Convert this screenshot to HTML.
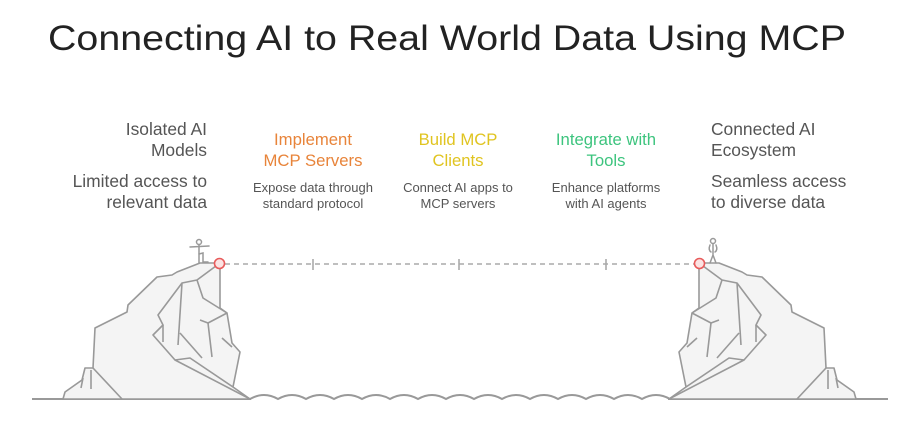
<!DOCTYPE html>
<html><head><meta charset="utf-8"><style>
html,body{margin:0;padding:0;background:#fff;}
svg{display:block;}
text{font-family:"Liberation Sans",sans-serif;}
</style></head><body>
<svg width="912" height="426" viewBox="0 0 912 426" xmlns="http://www.w3.org/2000/svg">
<text x="48" y="50" font-size="35" fill="#222" textLength="798" lengthAdjust="spacingAndGlyphs">Connecting AI to Real World Data Using MCP</text>

<g font-size="17.4" fill="#555" text-anchor="end">
<text x="207" y="135">Isolated AI</text>
<text x="207" y="156">Models</text>
<text x="207" y="187">Limited access to</text>
<text x="207" y="208">relevant data</text>
</g>
<g font-size="17.4" fill="#555">
<text x="711" y="135">Connected AI</text>
<text x="711" y="156">Ecosystem</text>
<text x="711" y="187">Seamless access</text>
<text x="711" y="208">to diverse data</text>
</g>
<g font-size="16.7" text-anchor="middle">
<text x="313" y="145" fill="#E8843A">Implement</text>
<text x="313" y="166" fill="#E8843A">MCP Servers</text>
<text x="458" y="145" fill="#E0C420">Build MCP</text>
<text x="458" y="166" fill="#E0C420">Clients</text>
<text x="606" y="145" fill="#3DC47E">Integrate with</text>
<text x="606" y="166" fill="#3DC47E">Tools</text>
</g>
<g font-size="13" fill="#555" text-anchor="middle">
<text x="313" y="192">Expose data through</text>
<text x="313" y="208">standard protocol</text>
<text x="458" y="192">Connect AI apps to</text>
<text x="458" y="208">MCP servers</text>
<text x="606" y="192">Enhance platforms</text>
<text x="606" y="208">with AI agents</text>
</g>

<line x1="225" y1="264" x2="694" y2="264" stroke="#aaa" stroke-width="1.6" stroke-dasharray="5 4"/>
<g stroke="#aaa" stroke-width="1.6">
<line x1="313" y1="259" x2="313" y2="270"/>
<line x1="459" y1="259" x2="459" y2="270"/>
<line x1="606" y1="259" x2="606" y2="270"/>
</g>

<g stroke="#999" stroke-width="2" fill="none">
<line x1="32" y1="399" x2="251" y2="399"/>
<line x1="668" y1="399" x2="888" y2="399"/>
<path d="M250 399 q14 -8 28 0 q14 -8 28 0 q14 -8 28 0 q14 -8 28 0 q14 -8 28 0 q14 -8 28 0 q14 -8 28 0 q14 -8 28 0 q14 -8 28 0 q14 -8 28 0 q14 -8 28 0 q14 -8 28 0 q14 -8 28 0 q14 -8 28 0 q14 -8 28 0"/>
</g>

<g id="cliff" stroke="#999" stroke-width="1.6" fill="none" stroke-linejoin="round">
<path fill="#f4f4f4" d="M63 399 L65 392 L82 380 L85 368 L93 368 L95 328 L127 312 L128 305 L157 277 L172 275 L177 272 L200 263 L220 263 L220 308 L227 313 L232 343 L240 352 L233 387 L250 399 Z"/>
<path d="M93 368 L122 399"/>
<path d="M91 370 L91 389"/>
<path d="M83 378 L81 388"/>
<path d="M220 263 L197 280 L182 283 L158 315 L163 325 L153 335 L175 360 L190 358 L233 387"/>
<path d="M175 360 L250 399"/>
<path d="M163 325 L163 342"/>
<path d="M182 283 L178 345"/>
<path d="M180 333 L202 358"/>
<path d="M197 280 L203 298 L227 313"/>
<path d="M200 320 L208 323 L227 313"/>
<path d="M208 323 L212 357"/>
<path d="M222 338 L232 347"/>
</g>
<use href="#cliff" transform="translate(919,0) scale(-1,1)"/>

<g stroke="#999" stroke-width="1.5" fill="none" stroke-linecap="round">
<circle cx="199" cy="242" r="2.5" fill="#fff"/>
<path d="M190 247 L209 246"/>
<path d="M199 245 L199 263"/>
<path d="M199 254 L203 253 L203 262 L208 262"/>
</g>
<g stroke="#999" stroke-width="1.5" fill="none" stroke-linecap="round">
<circle cx="713" cy="241" r="2.5" fill="#fff"/>
<path d="M713 244 L713 255 M713 255 L710 263 M713 255 L716 263"/>
<path d="M710 245 Q708 250 711 252 M716 245 Q718 250 715 252"/>
</g>

<circle cx="219.5" cy="263.5" r="5" fill="#fbe3e3" stroke="#e85a5a" stroke-width="1.6"/>
<circle cx="699.5" cy="263.5" r="5" fill="#fbe3e3" stroke="#e85a5a" stroke-width="1.6"/>
</svg>
</body></html>
